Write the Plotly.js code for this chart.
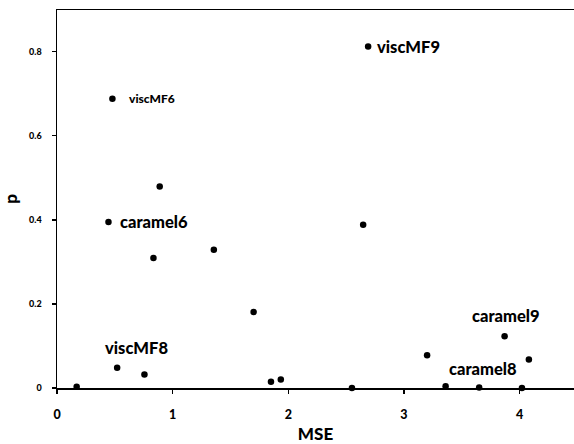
<!DOCTYPE html>
<html><head><meta charset="utf-8">
<script src="https://cdn.plot.ly/plotly-3.0.1.min.js"></script>
<style>html,body{margin:0;padding:0;background:#fff}#c{width:574px;height:444px}</style>
</head><body><div id="c"></div>
<script>
const mse = [0.17, 0.52, 0.756, 1.70, 1.85, 1.935, 2.55, 3.20, 3.36, 3.65, 3.87, 4.02, 4.08, 2.69, 0.479, 0.888, 0.445, 0.834, 1.356, 2.647];
const pval = [0.003, 0.048, 0.032, 0.181, 0.015, 0.020, 0.0, 0.078, 0.004, 0.001, 0.123, 0.0, 0.068, 0.812, 0.688, 0.479, 0.395, 0.309, 0.329, 0.388];
const labelIdx = [13, 14, 16, 1, 10, 9];
const labelText = ["viscMF9", "viscMF6", "caramel6", "viscMF8", "caramel9", "caramel8"];
const xTicks = [0, 1, 2, 3, 4];
const yTicks = [0, 0.2, 0.4, 0.6, 0.8];
const yTickText = ["0", "0.2", "0.4", "0.6", "0.8"];

const FONT = "Lato, 'Open Sans', sans-serif";
const labelStyle = [
  {xanchor:'left', xshift:7, yshift:0, size:16.5},
  {xanchor:'left', xshift:15, yshift:0, size:12},
  {xanchor:'left', xshift:10, yshift:0, size:16.5},
  {xanchor:'center', xshift:19, yshift:20, size:16.5},
  {xanchor:'center', xshift:1, yshift:20, size:16.5},
  {xanchor:'center', xshift:4, yshift:19, size:16.5}
];
const annotations = labelIdx.map((k, i) => ({
  x: mse[k], y: pval[k], xref:'x', yref:'y', text: labelText[i],
  showarrow:false, xanchor: labelStyle[i].xanchor, yanchor:'middle',
  xshift: labelStyle[i].xshift, yshift: labelStyle[i].yshift,
  font:{family:FONT, size:labelStyle[i].size, color:'#000', weight:900}
}));

Plotly.newPlot('c', [{
  type:'scatter', mode:'markers', x: mse, y: pval,
  marker:{color:'#000', size:6.5}, cliponaxis:false, hoverinfo:'none'
}], {
  width:574, height:444,
  margin:{l:57, r:0, t:10, b:56},
  paper_bgcolor:'#fff', plot_bgcolor:'#fff',
  showlegend:false,
  xaxis:{range:[0, 4.47], tickvals:xTicks, ticktext:xTicks.map(String),
    showgrid:false, zeroline:false, showline:true, linecolor:'#000', linewidth:1.5, mirror:true,
    ticks:'outside', ticklen:4, tickcolor:'#000', tickwidth:1.5, ticklabelstandoff:10,
    tickfont:{family:FONT, size:12.5, color:'#000', weight:900},
    title:{text:'MSE', font:{family:FONT, size:17, color:'#000', weight:900}, standoff:13}},
  yaxis:{range:[0, 0.899], tickvals:yTicks, ticktext:yTickText,
    showgrid:false, zeroline:false, showline:true, linecolor:'#000', linewidth:1.5,
    ticks:'outside', ticklen:4, tickcolor:'#000', tickwidth:1.5, ticklabelstandoff:8,
    tickfont:{family:FONT, size:9, color:'#000', weight:900},
    title:{text:'p', font:{family:FONT, size:17, color:'#000', weight:900}, standoff:12}},
  annotations: annotations
}, {staticPlot:true, displayModeBar:false});
</script></body></html>
